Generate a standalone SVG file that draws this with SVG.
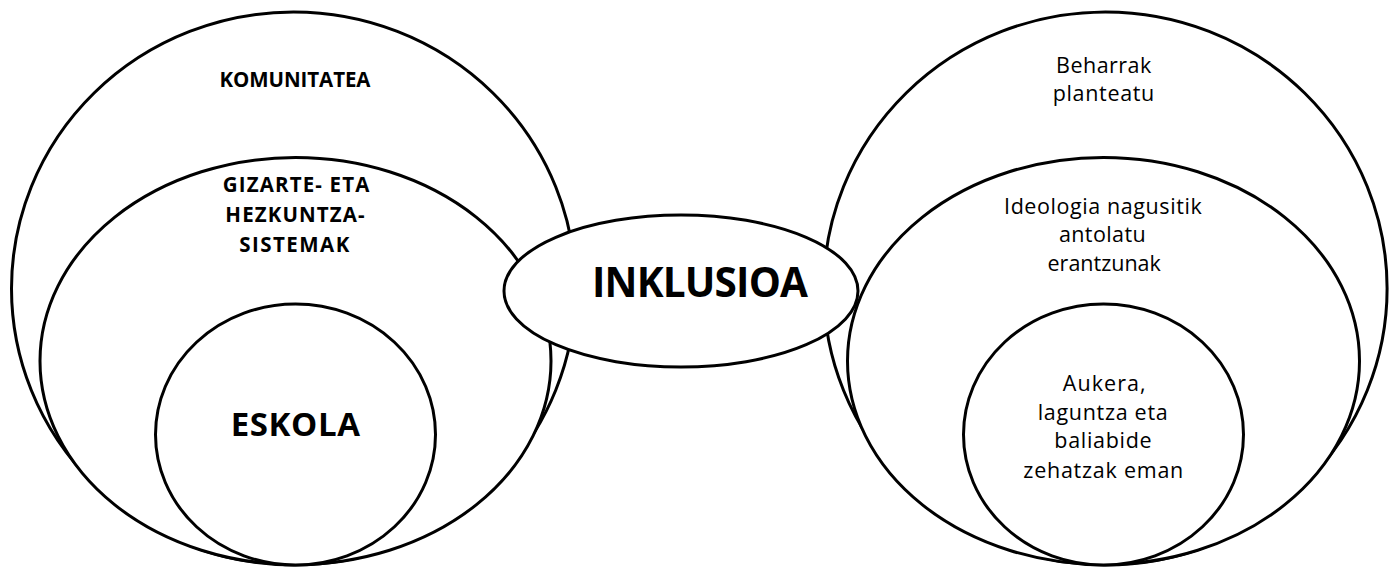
<svg xmlns="http://www.w3.org/2000/svg" width="1395" height="567" viewBox="0 0 1395 567">
<style>
.sh{fill:#ffffff;stroke:#000000;stroke-width:3}
.b{font-family:"Open Sans","Liberation Sans",sans-serif;font-weight:bold;fill:#000;text-anchor:middle}
.r{font-family:"Open Sans","Liberation Sans",sans-serif;font-weight:normal;fill:#000;text-anchor:middle;font-size:21.5px}
</style>
<rect width="1395" height="567" fill="#ffffff"/>
<g id="komunitatea">
<ellipse class="sh" cx="293.5" cy="288.5" rx="282" ry="276.5"/>
<text class="b" x="295" y="87.3" font-size="20.5" textLength="151" lengthAdjust="spacing">KOMUNITATEA</text>
</g>
<g id="gizarte-hezkuntza-sistemak">
<ellipse class="sh" cx="295.5" cy="361" rx="255.5" ry="203.5"/>
<text class="b" x="296" y="192" font-size="20.5" textLength="146.6" lengthAdjust="spacing">GIZARTE- ETA</text>
<text class="b" x="295" y="222.3" font-size="20.5" textLength="139.3" lengthAdjust="spacing">HEZKUNTZA-</text>
<text class="b" x="294.3" y="251.7" font-size="20.5" textLength="110" lengthAdjust="spacing">SISTEMAK</text>
</g>
<g id="eskola">
<ellipse class="sh" cx="295.5" cy="434.5" rx="140" ry="130.5"/>
<text class="b" x="295.3" y="435.7" font-size="33" textLength="129.3" lengthAdjust="spacing">ESKOLA</text>
</g>
<g id="beharrak-planteatu">
<ellipse class="sh" cx="1105.4" cy="288.5" rx="281.7" ry="276.5"/>
<text class="r" x="1103.7" y="73.3" textLength="95.3" lengthAdjust="spacing">Beharrak</text>
<text class="r" x="1103.5" y="101" textLength="101.6" lengthAdjust="spacing">planteatu</text>
</g>
<g id="ideologia-nagusitik">
<ellipse class="sh" cx="1103.5" cy="361" rx="256" ry="203.5"/>
<text class="r" x="1102.9" y="214" textLength="197.7" lengthAdjust="spacing">Ideologia nagusitik</text>
<text class="r" x="1102.3" y="242.3" textLength="86.7" lengthAdjust="spacing">antolatu</text>
<text class="r" x="1104.2" y="271">erantzunak</text>
</g>
<g id="aukera-laguntza">
<ellipse class="sh" cx="1103.5" cy="434.5" rx="140" ry="130.5"/>
<text class="r" x="1104.2" y="391" textLength="83" lengthAdjust="spacing">Aukera,</text>
<text class="r" x="1102.7" y="420" textLength="130" lengthAdjust="spacing">laguntza eta</text>
<text class="r" x="1103" y="448.3" textLength="97.4" lengthAdjust="spacing">baliabide</text>
<text class="r" x="1103.3" y="478.3" textLength="160" lengthAdjust="spacing">zehatzak eman</text>
</g>
<g id="connectors"></g>
<g id="inklusioa">
<ellipse class="sh" cx="681" cy="291" rx="177" ry="76"/>
<text class="b" x="700" y="296.7" font-size="40.5" textLength="216" lengthAdjust="spacing">INKLUSIOA</text>
</g>
</svg>
